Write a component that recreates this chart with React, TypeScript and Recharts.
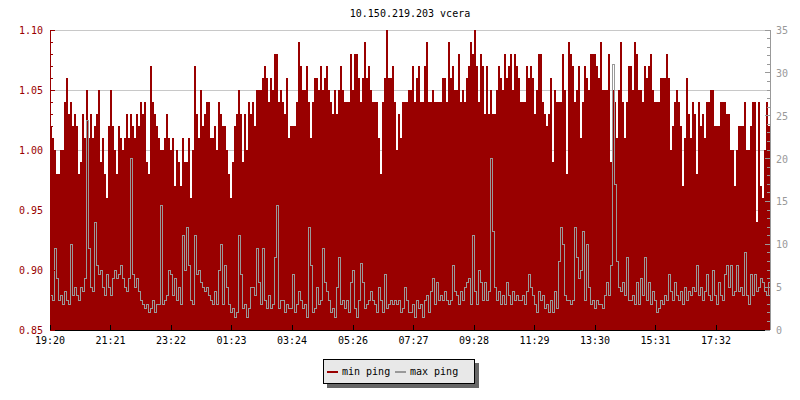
import React from "react";
import { ComposedChart, Area, Line, XAxis, YAxis, CartesianGrid, Legend } from "recharts";

const TITLE = "10.150.219.203 vcera";
const STEP_MIN = 4;

// x axis tick positions (minutes after 19:20) and their labels
const timeTicks = [0, 121, 242, 363, 484, 606, 727, 848, 969, 1090, 1211, 1332];
const timeLabels = ["19:20", "21:21", "23:22", "01:23", "03:24", "05:26", "07:27", "09:28", "11:29", "13:30", "15:31", "17:32"];

const leftTicks = [0.85, 0.86, 0.87, 0.88, 0.89, 0.9, 0.91, 0.92, 0.93, 0.94, 0.95, 0.96, 0.97, 0.98, 0.99, 1.0, 1.01, 1.02, 1.03, 1.04, 1.05, 1.06, 1.07, 1.08, 1.09, 1.1];
const gridTicks = [0.85, 0.9, 0.95, 1.0, 1.05, 1.1];
const rightTicks = [0, 1, 2, 3, 4, 5, 6, 7, 8, 9, 10, 11, 12, 13, 14, 15, 16, 17, 18, 19, 20, 21, 22, 23, 24, 25, 26, 27, 28, 29, 30, 31, 32, 33, 34, 35];

const seriesNames = ["min ping", "max ping"];

const minPing = [
  1.02, 1.01, 1.00, 0.98, 0.98, 1.00, 1.00, 1.04, 1.06, 1.03,
  1.04, 1.02, 1.03, 1.02, 0.98, 0.99, 1.03, 1.01, 1.05, 1.01,
  1.03, 1.01, 1.02, 1.03, 1.05, 0.99, 1.01, 0.98, 0.96, 1.02,
  1.05, 1.02, 1.00, 0.98, 1.02, 1.01, 1.00, 1.01, 1.03, 1.01,
  1.03, 1.02, 1.01, 1.03, 1.02, 1.04, 1.03, 1.04, 0.99, 0.98,
  1.07, 1.04, 1.03, 1.02, 1.01, 1.00, 1.00, 1.01, 1.03, 1.01,
  1.00, 1.01, 0.97, 1.00, 0.99, 0.97, 1.01, 0.99, 0.99, 1.01,
  0.96, 1.00, 1.07, 1.03, 1.01, 1.05, 1.02, 1.03, 1.04, 1.04,
  1.01, 1.01, 1.02, 1.00, 1.04, 1.03, 1.02, 1.02, 1.00, 0.98,
  0.96, 0.99, 1.02, 1.03, 1.05, 1.03, 0.99, 1.03, 1.00, 1.04,
  1.03, 1.04, 1.02, 1.05, 1.05, 1.05, 1.06, 1.07, 1.06, 1.04,
  1.06, 1.05, 1.08, 1.08, 1.04, 1.05, 1.04, 1.03, 1.06, 1.01,
  1.02, 1.02, 1.02, 1.04, 1.09, 1.07, 1.05, 1.05, 1.07, 1.04,
  1.01, 1.04, 1.06, 1.06, 1.05, 1.07, 1.05, 1.06, 1.07, 1.05,
  1.04, 1.03, 1.05, 1.03, 1.05, 1.07, 1.05, 1.04, 1.04, 1.04,
  1.08, 1.05, 1.08, 1.08, 1.06, 1.04, 1.06, 1.09, 1.06, 1.07,
  1.05, 1.04, 1.04, 1.04, 1.01, 0.98, 1.04, 1.06, 1.10, 1.06,
  1.06, 1.07, 1.04, 1.00, 1.03, 1.01, 1.04, 1.04, 1.04, 1.05,
  1.05, 1.07, 1.04, 1.06, 1.07, 1.04, 1.04, 1.07, 1.09, 1.04,
  1.04, 1.05, 1.04, 1.04, 1.04, 1.04, 1.06, 1.06, 1.04, 1.09,
  1.06, 1.07, 1.05, 1.05, 1.08, 1.04, 1.05, 1.04, 1.06, 1.07,
  1.09, 1.08, 1.10, 1.07, 1.04, 1.08, 1.07, 1.03, 1.07, 1.03,
  1.05, 1.03, 1.03, 1.05, 1.07, 1.06, 1.05, 1.08, 1.06, 1.07,
  1.08, 1.05, 1.08, 1.07, 1.06, 1.04, 1.04, 1.04, 1.07, 1.06,
  1.07, 1.06, 1.03, 1.05, 1.08, 1.08, 1.04, 1.03, 1.02, 1.03,
  1.06, 0.99, 1.05, 1.04, 1.04, 1.04, 1.08, 1.05, 0.98, 1.09,
  1.08, 1.07, 1.04, 1.05, 1.07, 1.01, 1.04, 1.07, 1.06, 1.05,
  1.08, 1.08, 1.08, 1.07, 1.06, 1.09, 1.05, 1.05, 1.05, 1.08,
  0.99, 1.05, 1.04, 1.01, 1.05, 1.09, 1.04, 1.01, 1.04, 1.07,
  1.07, 1.05, 1.09, 1.08, 1.05, 1.05, 1.04, 1.07, 1.06, 1.07,
  1.08, 1.05, 1.04, 1.04, 1.04, 1.06, 1.06, 1.06, 1.08, 1.06,
  1.00, 1.02, 1.04, 1.05, 1.04, 1.02, 0.97, 1.01, 1.06, 1.03,
  1.01, 1.04, 1.03, 0.98, 1.04, 1.02, 1.03, 1.01, 1.04, 1.04,
  1.05, 1.05, 1.02, 1.02, 1.02, 1.04, 1.04, 1.04, 1.03, 1.03,
  1.00, 1.00, 0.97, 1.00, 1.02, 1.02, 1.02, 1.04, 1.00, 1.00,
  1.02, 1.04, 1.04, 0.94, 1.04, 0.97, 0.96, 1.00, 1.04, 1.02,
  1.01,
];

const maxPing = [
  4, 3.5, 9.5, 6, 3.5, 4, 3, 4.5, 3.5, 3,
  10, 4, 5, 4, 3.5, 5, 4.5, 6, 24.5, 9.5,
  5, 4.5, 12.5, 7.5, 6.5, 7, 5, 4, 6.5, 5,
  4, 6, 7, 6, 6.5, 7.5, 6, 5, 4.5, 6,
  20, 6.5, 5, 6, 4.5, 3.5, 3, 2.5, 3, 2,
  2.5, 3.5, 2, 3, 3, 14.5, 3, 3.5, 4, 7,
  6.5, 4, 6, 3.5, 5, 3, 11, 7, 12, 7.5,
  3.5, 3, 11, 6.5, 7, 5.5, 5, 4.5, 5, 4,
  3.5, 3, 4.5, 3, 7, 10, 3, 7.5, 5, 3,
  2, 2.5, 1.5, 2, 11, 6.5, 2.5, 3, 1.5, 2.5,
  5, 5, 4, 9.5, 5.5, 3, 9.5, 3.5, 2.5, 4,
  2.5, 3, 8.5, 14.5, 2.5, 3.5, 3.5, 2, 3, 2.5,
  2.5, 6.5, 2, 3, 4.5, 3.5, 2.5, 3, 1.5, 12,
  7.5, 2, 2.5, 5, 3, 3.5, 9.5, 5.5, 4.5, 3.5,
  2, 2.5, 1.5, 5, 8.5, 3, 3.5, 2.5, 3.5, 2,
  5.5, 7, 2.5, 1.5, 3.5, 7.8, 5.5, 2.5, 3, 3.5,
  4.5, 3.5, 3, 2, 5, 3.5, 2, 6.5, 2.5, 3,
  3.5, 3, 3.5, 3, 3.5, 2, 2.5, 5, 3.5, 2,
  2, 3, 1.5, 3.5, 2.5, 3, 1.5, 3.5, 4, 2,
  4.5, 6, 3, 5.5, 3.5, 4, 3.5, 4.5, 3.5, 3,
  3.5, 7.5, 4.5, 4, 3, 4.5, 3.5, 5, 5.5, 6,
  3, 11, 4.5, 3, 7, 5.5, 3.5, 5.5, 3.5, 4.5,
  20, 11.5, 5, 3.5, 4.5, 3, 4, 3, 5.5, 4,
  3, 4.5, 3.5, 4, 3.5, 3.5, 4, 3, 4.5, 6.5,
  5, 4, 3, 2, 4.5, 3.5, 4, 2.5, 3, 2,
  3.5, 2, 4.5, 2.5, 8, 12, 10, 4, 3.5, 3.5,
  3, 3.5, 12, 8.5, 6, 7, 11.5, 3.5, 10, 5,
  3, 3.5, 2.5, 3.5, 3, 3, 2.5, 4, 5.5, 4,
  7.5, 31, 17, 8, 5, 4.5, 5.5, 4, 8.5, 3.5,
  3.5, 4, 3, 5.5, 3, 6, 4, 8.5, 3.5, 5.5,
  3, 4.5, 3.5, 2, 2.5, 3.5, 3, 4, 3.5, 6.5,
  4.5, 3.5, 5.5, 4, 3.5, 4.5, 3, 5, 3.5, 4.5,
  4, 5, 4.5, 7.5, 4, 5, 3.5, 4.5, 6.5, 4,
  3.5, 7, 4, 3, 5.5, 4, 3.5, 6.5, 7.5, 5,
  7.5, 4, 4.5, 7.5, 4.5, 5, 4, 9, 4, 3,
  6.5, 4, 6.5, 4.5, 5, 6, 5.5, 4.5, 4, 5.5,
  5,
];

const rows = minPing.map((v, i) => ({ t: i * STEP_MIN, min: v, max: maxPing[i] }));

const RED = "#990000";
const GRAY = "#999999";
const FONT = "DejaVu Sans Mono, monospace";

const LeftTick = (props: any) => {
  const { x, y, payload } = props;
  const v = payload.value as number;
  const major = Math.round(v * 100) % 5 === 0;
  return (
    <g>
      <line x1={x} x2={x + (major ? 5 : 3)} y1={y} y2={y} stroke={RED} shapeRendering="crispEdges" />
      {major && (
        <text x={x - 7} y={y + 4} textAnchor="end" fill={RED} fontSize={10} fontFamily={FONT}>
          {v.toFixed(2)}
        </text>
      )}
    </g>
  );
};

const RightTick = (props: any) => {
  const { x, y, payload } = props;
  const v = payload.value as number;
  const major = v % 5 === 0;
  return (
    <g>
      <line x1={x} x2={x - (major ? 5 : 3)} y1={y} y2={y} stroke={GRAY} shapeRendering="crispEdges" />
      {major && (
        <text x={x + 6} y={y + 4} textAnchor="start" fill={GRAY} fontSize={10} fontFamily={FONT}>
          {String(v)}
        </text>
      )}
    </g>
  );
};

const BottomTick = (props: any) => {
  const { x, y, payload, index } = props;
  const label = timeLabels[index] ?? String(payload.value);
  return (
    <g>
      <line x1={x} x2={x} y1={y} y2={y - 5} stroke="#000" shapeRendering="crispEdges" />
      <text x={x} y={y + 14} textAnchor="middle" fill="#000" fontSize={10} fontFamily={FONT}>
        {label}
      </text>
    </g>
  );
};

const LegendBox = () => (
  <svg width={160} height={32} style={{ display: "block" }}>
    <rect x={4} y={4} width={152} height={25} fill="#666666" />
    <rect x={0.5} y={0.5} width={151} height={24} fill="#e8e8e8" stroke="#000" />
    <rect x={4} y={12} width={11} height={2} fill={RED} />
    <text x={19} y={16} fontSize={10} fontFamily={FONT} fill="#000">{seriesNames[0]}</text>
    <rect x={72} y={12} width={11} height={2} fill={GRAY} />
    <text x={87} y={16} fontSize={10} fontFamily={FONT} fill="#000">{seriesNames[1]}</text>
  </svg>
);

export default function App() {
  return (
    <div style={{ position: "absolute", left: 0, top: 0, width: 800, height: 400, background: "#fff" }}>
      <svg width={800} height={30} style={{ position: "absolute", left: 0, top: 0 }}>
        <text x={410} y={17} textAnchor="middle" fontSize={10} fontFamily={FONT} fill="#000">
          {TITLE}
        </text>
      </svg>
      <ComposedChart width={800} height={400} data={rows} margin={{ top: 30, right: 0, bottom: 0, left: 0 }}>
        <CartesianGrid yAxisId="grid" vertical={false} stroke="#c8c8c8" shapeRendering="crispEdges" />
        <XAxis
          dataKey="t"
          type="number"
          domain={[0, 1440]}
          ticks={timeTicks}
          interval={0}
          height={70}
          tickSize={0}
          tickMargin={0}
          tickLine={false}
          tick={<BottomTick />}
          axisLine={{ stroke: "#000", shapeRendering: "crispEdges" }}
          allowDataOverflow
        />
        <YAxis
          yAxisId="left"
          orientation="left"
          type="number"
          domain={[0.85, 1.1]}
          ticks={leftTicks}
          interval={0}
          width={50}
          tickSize={0}
          tickMargin={0}
          tickLine={false}
          tick={<LeftTick />}
          axisLine={{ stroke: RED, shapeRendering: "crispEdges" }}
          allowDataOverflow
        />
        <YAxis
          yAxisId="right"
          orientation="right"
          type="number"
          domain={[0, 35]}
          ticks={rightTicks}
          interval={0}
          width={30}
          tickSize={0}
          tickMargin={0}
          tickLine={false}
          tick={<RightTick />}
          axisLine={{ stroke: GRAY, shapeRendering: "crispEdges" }}
          allowDataOverflow
        />
        <YAxis yAxisId="grid" orientation="left" width={0} domain={[0.85, 1.1]} ticks={gridTicks} hide type="number" allowDataOverflow />
        <Area
          yAxisId="left"
          dataKey="min"
          name={seriesNames[0]}
          type="stepAfter"
          stroke="none"
          fill={RED}
          fillOpacity={1}
          isAnimationActive={false}
          dot={false}
          activeDot={false}
          shapeRendering="crispEdges"
        />
        <Line
          yAxisId="right"
          dataKey="max"
          name={seriesNames[1]}
          type="stepAfter"
          stroke={GRAY}
          strokeWidth={1}
          dot={false}
          activeDot={false}
          isAnimationActive={false}
          shapeRendering="crispEdges"
        />
        <Legend
          layout="horizontal"
          verticalAlign="middle"
          align="center"
          content={<LegendBox />}
          wrapperStyle={{ left: 323, top: 359, width: 160, height: 32, bottom: "auto" }}
        />
      </ComposedChart>
    </div>
  );
}
